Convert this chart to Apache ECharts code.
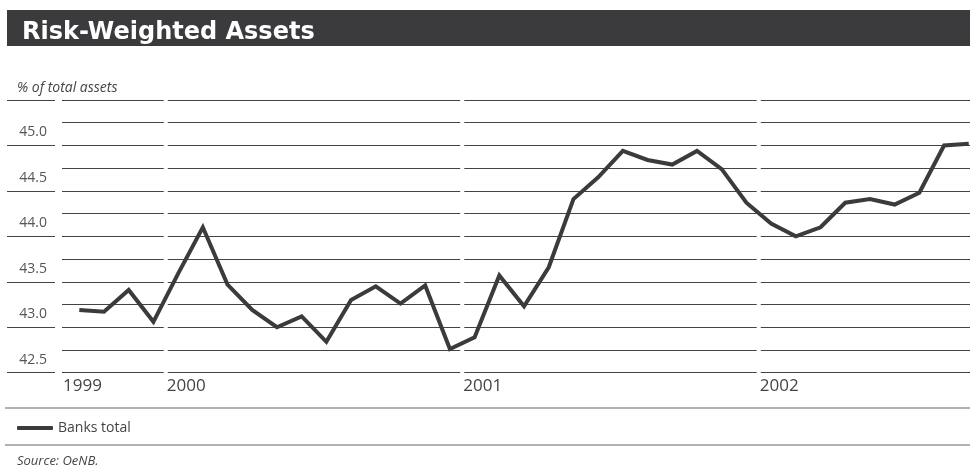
<!DOCTYPE html>
<html>
<head>
<meta charset="utf-8">
<script src="https://cdn.jsdelivr.net/npm/echarts@6/dist/echarts.min.js"></script>
<style>
  html, body { margin: 0; padding: 0; background: #fff; }
  #chart { width: 970px; height: 472px; }
</style>
</head>
<body>
<div id="chart"></div>
<script>
// Monthly observations, Sep 1999 – Sep 2002
const months = [
  '1999-09', '1999-10', '1999-11', '1999-12',
  '2000-01', '2000-02', '2000-03', '2000-04', '2000-05', '2000-06',
  '2000-07', '2000-08', '2000-09', '2000-10', '2000-11', '2000-12',
  '2001-01', '2001-02', '2001-03', '2001-04', '2001-05', '2001-06',
  '2001-07', '2001-08', '2001-09', '2001-10', '2001-11', '2001-12',
  '2002-01', '2002-02', '2002-03', '2002-04', '2002-05', '2002-06',
  '2002-07', '2002-08', '2002-09'
];

// Risk-weighted assets, % of total assets
const banksTotal = [
  43.19, 43.17, 43.41, 43.06,
  43.59, 44.10, 43.47, 43.19, 43.00, 43.12, 42.84, 43.30, 43.45, 43.26, 43.46, 42.76,
  42.89, 43.57, 43.23, 43.66, 44.41, 44.65, 44.94, 44.84, 44.79, 44.94, 44.74, 44.37,
  44.14, 44.00, 44.10, 44.37, 44.41, 44.35, 44.48, 45.00, 45.02
];

// Year labels and where each year begins on the month index scale
const yearLabels = ['1999', '2000', '2001', '2002'];
const yearStarts = [-0.7, 3.5, 15.5, 27.5];
const yearBreaks = [3.5, 15.5, 27.5];

const yMin = 42.5, yMax = 45.5;

const fontFamily = '"Open Sans", "Noto Sans", sans-serif';
const ink = '#3b3b3d';

const chart = echarts.init(document.getElementById('chart'), null, { renderer: 'canvas' });

chart.setOption({
  animation: false,
  backgroundColor: '#ffffff',
  title: {
    text: 'Risk-Weighted Assets',
    left: 17,
    top: 16,
    textStyle: {
      fontFamily: '"DejaVu Sans", sans-serif',
      fontWeight: 'bold',
      fontSize: 24,
      color: '#ffffff'
    }
  },
  graphic: [
    { type: 'rect', z: -1, shape: { x: 7, y: 10, width: 963, height: 36 }, style: { fill: ink } },
    {
      type: 'text', left: 17, top: 81,
      style: { text: '% of total assets', font: 'italic 14px ' + fontFamily, fill: '#444' }
    },
    { type: 'line', shape: { x1: 5, y1: 408, x2: 970, y2: 408 }, style: { stroke: '#666', lineWidth: 1.2 } },
    { type: 'line', shape: { x1: 5, y1: 445, x2: 970, y2: 445 }, style: { stroke: '#666', lineWidth: 1.2 } },
    {
      type: 'text', left: 17, top: 455,
      style: { text: 'Source: OeNB.', font: 'italic 13px ' + fontFamily, fill: '#444' }
    }
  ],
  legend: {
    left: 12,
    top: 416,
    icon: 'roundRect',
    itemWidth: 36,
    itemHeight: 4,
    itemGap: 10,
    textStyle: { fontFamily: fontFamily, fontSize: 14, color: '#444' },
    data: ['Banks total']
  },
  grid: [
    { left: 7, width: 48, top: 100, height: 272.7 },
    { left: 62, right: 0, top: 100, height: 272.7 }
  ],
  xAxis: [
    {
      gridIndex: 0, type: 'value', min: 0, max: 1,
      axisLine: { show: false }, axisTick: { show: false }, axisLabel: { show: false }, splitLine: { show: false }
    },
    {
      gridIndex: 1, type: 'value', min: -0.7, max: 36.05,
      axisLine: { show: false },
      axisTick: { show: false },
      splitLine: { show: false },
      axisLabel: {
        customValues: yearStarts,
        formatter: function (v) {
          const k = yearStarts.findIndex(function (s) { return Math.abs(s - v) < 1e-6; });
          return k >= 0 ? yearLabels[k] : '';
        },
        align: 'left',
        padding: [0, 0, 0, 1],
        margin: 5,
        fontFamily: fontFamily,
        fontSize: 17,
        color: '#444'
      }
    }
  ],
  yAxis: [
    {
      gridIndex: 0, type: 'value', position: 'right',
      min: yMin, max: yMax, interval: 0.5,
      axisLine: { show: false }, axisTick: { show: false },
      splitLine: { show: true, lineStyle: { color: '#444', width: 1 } },
      axisLabel: {
        inside: true,
        margin: 8,
        verticalAlign: 'bottom',
        padding: [0, 0, 6, 0],
        fontFamily: fontFamily,
        fontSize: 14,
        color: '#555',
        formatter: function (v) { return v >= yMax ? '' : v.toFixed(1); }
      }
    },
    {
      gridIndex: 1, type: 'value',
      min: yMin, max: yMax, interval: 0.25,
      axisLine: { show: false }, axisTick: { show: false }, axisLabel: { show: false },
      splitLine: { show: true, lineStyle: { color: '#444', width: 1 } }
    }
  ],
  series: [
    {
      // white gaps in the grid lines between years
      type: 'custom',
      xAxisIndex: 1,
      yAxisIndex: 1,
      z: 1,
      silent: true,
      data: yearBreaks.map(function (b) { return [b, yMin]; }),
      renderItem: function (params, api) {
        const top = api.coord([api.value(0), yMax]);
        const bottom = api.coord([api.value(0), yMin]);
        return {
          type: 'rect',
          shape: { x: top[0] - 2, y: top[1] - 2, width: 4, height: bottom[1] - top[1] + 4 },
          style: { fill: '#ffffff' }
        };
      }
    },
    {
      name: 'Banks total',
      type: 'line',
      xAxisIndex: 1,
      yAxisIndex: 1,
      z: 3,
      data: banksTotal.map(function (v, i) { return [i, v]; }),
      showSymbol: false,
      symbol: 'none',
      color: ink,
      lineStyle: { color: ink, width: 4, join: 'miter' }
    }
  ]
});
</script>
</body>
</html>
